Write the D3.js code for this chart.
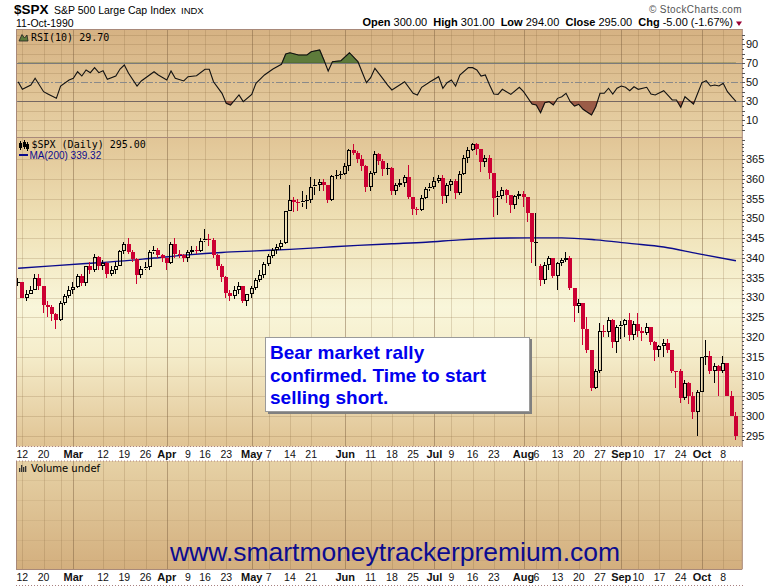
<!DOCTYPE html>
<html><head><meta charset="utf-8">
<script src="https://cdn.jsdelivr.net/npm/d3@7"></script>
<style>body{margin:0;background:#fff;} svg{display:block;font-family:"Liberation Sans",Arial,sans-serif;}</style>
</head><body><svg id="c" width="780" height="586"></svg>
<script>
// ---- DATA ----
const opens = [334,334,330,331,332,335,333,328,327.7,325.7,324.2,328.7,330.3,331.9,332.7,335.5,333.7,337.9,337,340.3,
337.9,338.7,336,336.9,338.1,341.9,343.5,341.6,339.7,335.7,337.2,337.6,341.5,342,340.8,339.9,338.7,343.6,341.1,340.7,
340.1,341.4,342.1,341.9,344.3,344.7,344.6,340.7,338.1,335.1,331.1,330.4,332,332.9,329.1,330.8,332.3,334.5,335.6,338.4,
340.5,342,342.9,343.8,352,354.8,354.3,354,354.5,354.6,358,358.4,359.3,358.4,354.6,360.7,360.9,361.2,363.2,367.4,
366.6,365,363.2,358,361.6,366.3,364.5,362.5,362.9,356.9,358.5,359.1,360.5,355.4,352.3,352.1,355.1,357.6,358,359.5,
360.2,355.7,358.4,359.5,356.5,361.2,365.4,367.3,369,367.5,364.2,365.3,361.6,355.3,355.8,357.1,355.9,353.4,355.6,356.2,
355.5,351.5,344,338,334.5,338.3,339.9,335.5,338.8,339.4,340.1,332.4,327.8,328.5,321.9,316.6,307.1,311.5,321.4,321.3,
324.2,318.7,322.6,323.1,324.4,320.5,323.4,321.6,321,322.5,318.7,316.8,317.8,318.6,316.6,311.5,311.3,304.6,308.3,305.1,
301,306.1,314.9,315.2,311.4,312.7,311.5,313.5,305.1,300];
const highs = [335,334,332,333,336,336,333,329,328,326,329,331,333,334,336,336,338,339,341,340.5,
339.5,339,338,339,342,344,345,342,340,338,339,342,343,342.5,341,340,344,345,342,341,
342,343,343,345,347.3,346,345,341,338.5,335.5,332,333,334,333,331,333,335,337,339,341,
342.5,343.5,344.5,352,358.5,355.5,355,357,356,360.5,360,360,360,358.5,361,362.3,362,364,367.5,368.9,
367,366,363.5,362,367,366.5,365,364,363,359,360,361,363.6,355.5,353,356,358,359,360.5,361,
361,359,360,360,362,366,368,369.2,369.2,367.5,366,366,361.6,357,358,357.5,356,356,357,357,
355.5,351.5,351.5,338.5,339,340.5,340,339,340,341.5,340.5,332.5,329.5,328.5,325,316.6,312,323.5,323,325,
324.5,323,324,324.5,326,324,326,322.5,323.5,322.5,319,318,319.5,319.5,316.8,311.5,312,309,308.5,306,
306.5,315,319.2,316.5,313.5,313,315.2,313.5,306.4,301];
const lows = [333,330,329,331,332,332,326,325,324,322,324,328,330,331,332.5,333,333,336,336.5,337,
337,335,335.5,336,338,341,341,339,333.4,335,337,337,341,340,339,337,338.5,340,340,339,
339,341,341,341.5,344,343,340,337,334,330,329,329.5,331,328.5,327.9,330,332,334,335,338,
340,341,342,343.5,352,351.7,352,353,352.5,354,356,357,357,354,354.5,360,360,361,362,366,
364,362,356.8,357,361,363.5,360.8,361,356,356,358,358,355,350.9,350.9,352,355,357,357.5,359,
353.7,354,357,355,356,361,364,367,366,361.9,363,360,350.3,350.9,355,354,351.5,352.5,355,353,
349,338.7,338,333,333.5,337,335,332,338,339,332,323.9,326,318,316,306.2,306.8,311,320,320,
317.1,316,319.5,320,319,319.2,320,319,320.5,318,314,315,315,316,311,307.2,303.2,304,303,299.2,
295,306,313,310.5,308.3,305.1,311,305,300,294];
const closes = [334,330,331,332,335,333,328,327.7,325.7,324.2,328.7,330.3,331.9,332.7,335.5,333.7,337.9,337,340.3,337.9,
338.7,336,336.9,338.1,341.9,343.5,341.6,339.7,335.7,337.2,337.6,341.5,342,340.8,339.9,338.7,343.6,341.1,340.7,340.1,
341.4,342.1,341.9,344.3,344.7,344.6,340.7,338.1,335.1,331.1,330.4,332,332.9,329.1,330.8,332.3,334.5,335.6,338.4,340.5,
342,342.9,343.8,352,354.8,354.3,354,354.5,354.6,358,358.4,359.3,358.4,354.6,360.7,360.9,361.2,363.2,367.4,366.6,
365,363.2,358,361.6,366.3,364.5,362.5,362.9,356.9,358.5,359.1,360.5,355.4,352.3,352.1,355.1,357.6,358,359.5,360.2,
355.7,358.4,359.5,356.5,361.2,365.4,367.3,369,367.5,364.2,365.3,361.6,355.3,355.8,357.1,355.9,353.4,355.6,356.2,355.5,
351.5,344,344,334.5,338.3,339.9,335.5,338.8,339.4,340.1,332.4,327.8,328.5,321.9,316.6,307.1,311.5,321.4,321.3,324.2,
318.7,322.6,323.1,324.4,320.5,323.4,321.6,321,322.5,318.7,316.8,317.8,318.6,316.6,311.5,311.3,304.6,308.3,305.1,301,
306.1,314.9,315.2,311.4,312.7,311.5,313.5,305.1,300,295];

const maIdx = [0,8,16,24,32,40,48,56,64,72,80,88,96,104,112,120,128,136,144,152,160,169];
const maVal = [337.4,338.0,338.6,339.2,340.0,340.8,341.4,341.8,342.2,342.7,343.2,343.6,344.0,344.6,345.0,345.1,345.1,344.6,343.7,342.8,341.1,339.3];

const rsiIdx = [0,1,3,4,6,7,9,10,12,13,14,15,16,17,18,19,20,21,23,24,25,26,28,29,32,33,35,36,37,39,40,42,44,45,46,48,49,50,52,53,55,56,58,60,62,63,64,66,68,69,71,72,73,74,76,78,80,82,83,84,86,87,88,91,93,94,95,97,99,100,101,102,103,104,106,107,108,109,110,111,112,113,114,116,118,119,121,122,123,124,125,126,127,128,129,130,131,132,133,135,136,137,138,139,140,141,142,143,144,145,146,148,149,150,152,154,155,156,157,159,160,161,162,163,164,165,166,167,168,169];
const rsiVal = [50.3,42.3,46.8,53.9,39.8,37.4,32.8,45.8,52.1,53.9,60.8,56.3,62.6,59.8,65.1,59.8,61.9,52.8,56.3,63.7,67.9,59.2,45.8,51.1,60.8,57.4,52.1,61.6,53.9,51.1,55.6,56.6,63.4,63.4,50.3,38.1,27.6,25.8,36.3,29.3,37,48.6,57.4,63.7,68.6,79.5,80.8,78.4,78.4,81.9,83.7,73.2,61.6,71.4,72.4,80.8,71.4,49.3,54.5,64.4,52.8,46.8,41.6,50.3,38.1,36.3,44.4,50.3,55.6,43.4,49.3,52.1,45.8,57.4,65.1,65.1,62.6,56.3,57.4,46.8,37.4,37,42.3,37,44.4,39.8,26.8,25.8,17.7,28.2,29.3,25.8,32.8,34.5,38.1,29.3,24.7,26.5,21.3,15.3,24,38.1,38.1,43.4,37.4,43.4,45.8,44.4,40.8,45,42.3,44.4,37.4,36.3,40.8,31.1,31.1,23.4,34.5,26.8,38.1,49.3,51.4,45.8,46.8,45.8,48.6,39.8,34.5,29.7];

const tickIdx = [1,6,13,20,25,30,35,40,44,49,55,59,64,69,77,83,88,93,98,102,107,112,119,122,127,132,137,142,146,151,156,161,166];
const tickLabels = ["12","20","Mar","12","19","26","Apr","9","16","23","May","7","14","21","Jun","11","18","25","Jul","9","16","23","Aug","6","13","20","27","Sep","10","17","24","Oct","8"];
const extraGridIdx = [10];
const priceTicks = [295,300,305,310,315,320,325,330,335,340,345,350,355,360,365];
const rsiTicks = [10,30,50,70,90];

// ---- LAYOUT ----
const L = 16, R = 742.3;
const RSI_T = 29, RSI_B = 137, PR_T = 137, PR_B = 446.5, VO_T = 461, VO_B = 569;
const RED = "#cc0033", BLK = "#000";
const svg = d3.select("#c");
const defs = svg.append("defs");
function grad(id, stops){
  const g = defs.append("linearGradient").attr("id", id).attr("x1",0).attr("y1",0).attr("x2",0).attr("y2",1);
  stops.forEach(([o,c]) => g.append("stop").attr("offset", o).attr("stop-color", c));
}
grad("gRsi", [[0,"#d6b283"],[1,"#e7d1a5"]]);
grad("gPrice", [[0,"#e1c596"],[0.28,"#efe1b6"],[0.55,"#f9f6da"],[0.7,"#f5edcb"],[1,"#e0c393"]]);
grad("gVol", [[0,"#e6d1a5"],[1,"#d3af7e"]]);
defs.append("clipPath").attr("id","clipP").append("rect").attr("x",L).attr("y",PR_T).attr("width",R-L).attr("height",PR_B-PR_T);
defs.append("clipPath").attr("id","clipR").append("rect").attr("x",L).attr("y",RSI_T).attr("width",R-L).attr("height",RSI_B-RSI_T);

const x = d3.scaleLinear().domain([-0.5, 170.5]).range([L, R]);
const yP = d3.scaleLinear().domain([295, 365]).range([435.7, 159.3]);
const yR = d3.scaleLinear().domain([30, 70]).range([101, 63]);
const px = v => Math.round(v) + 0.5;

// panels
svg.append("rect").attr("x",L).attr("y",RSI_T).attr("width",R-L).attr("height",RSI_B-RSI_T).attr("fill","url(#gRsi)");
svg.append("rect").attr("x",L).attr("y",PR_T).attr("width",R-L).attr("height",PR_B-PR_T).attr("fill","url(#gPrice)");
svg.append("rect").attr("x",L).attr("y",VO_T).attr("width",R-L).attr("height",VO_B-VO_T).attr("fill","url(#gVol)");

// vertical grid
const isMonth = d => /^[A-Z]/.test(d);
const vGrid = tickIdx.map((t,i)=>({i:t, m:isMonth(tickLabels[i])})).concat(extraGridIdx.map(t=>({i:t,m:false})));
[[RSI_T,RSI_B],[PR_T,PR_B],[VO_T,VO_B]].forEach(([t,b]) => {
  svg.append("g").selectAll("line").data(vGrid).join("line")
    .attr("x1", d=>px(x(d.i))).attr("x2", d=>px(x(d.i))).attr("y1", t).attr("y2", b)
    .attr("stroke", d => d.m ? "rgba(120,90,60,0.45)" : "rgba(130,100,60,0.22)").attr("stroke-width",1);
});
// horizontal grid - price
svg.append("g").selectAll("line").data(priceTicks).join("line")
  .attr("x1",L).attr("x2",R).attr("y1",d=>px(yP(d))).attr("y2",d=>px(yP(d)))
  .attr("stroke","rgba(130,100,60,0.22)");
// horizontal grid - rsi
svg.append("g").selectAll("line").data([0,10,20,40,60,80,90,100]).join("line")
  .attr("x1",L).attr("x2",R).attr("y1",d=>px(yR(d))).attr("y2",d=>px(yR(d)))
  .attr("stroke","rgba(130,100,60,0.22)").attr("clip-path","url(#clipR)");
svg.append("g").selectAll("line").data([70,30]).join("line")
  .attr("x1",L).attr("x2",R).attr("y1",d=>px(yR(d))).attr("y2",d=>px(yR(d)))
  .attr("stroke","#7b7b7b");
svg.append("line").attr("x1",L).attr("x2",R).attr("y1",px(yR(50))).attr("y2",px(yR(50)))
  .attr("stroke","#8a8a8a").attr("stroke-dasharray","7,2,2,2");
// volume horizontal faint lines
svg.append("g").selectAll("line").data([480,500,520,540,560]).join("line")
  .attr("x1",L).attr("x2",R).attr("y1",d=>d+0.5).attr("y2",d=>d+0.5).attr("stroke","rgba(130,100,60,0.10)");

// RSI
const rsiPts = rsiIdx.map((d,i)=>[d, rsiVal[i]]);
const gR = svg.append("g").attr("clip-path","url(#clipR)");
defs.append("clipPath").attr("id","above70").append("rect").attr("x",L).attr("y",RSI_T).attr("width",R-L).attr("height",yR(70)-RSI_T);
defs.append("clipPath").attr("id","below30").append("rect").attr("x",L).attr("y",yR(30)).attr("width",R-L).attr("height",RSI_B-yR(30));
gR.append("path").datum(rsiPts).attr("clip-path","url(#above70)")
  .attr("d", d3.area().x(d=>x(d[0])).y0(yR(70)).y1(d=>yR(d[1])))
  .attr("fill","#5e7b3b").attr("stroke","#3f5a24").attr("stroke-width",0.6);
gR.append("path").datum(rsiPts).attr("clip-path","url(#below30)")
  .attr("d", d3.area().x(d=>x(d[0])).y0(yR(30)).y1(d=>yR(d[1])))
  .attr("fill","#9b5c47").attr("stroke","#6b3a2a").attr("stroke-width",0.6);
gR.append("path").datum(rsiPts)
  .attr("d", d3.line().x(d=>x(d[0])).y(d=>yR(d[1])))
  .attr("fill","none").attr("stroke","#111").attr("stroke-width",1.1);

// Price: MA then candles
const gP = svg.append("g").attr("clip-path","url(#clipP)");
gP.append("path").datum(maIdx.map((d,i)=>[d, maVal[i]]))
  .attr("d", d3.line().x(d=>x(d[0])).y(d=>yP(d[1])).curve(d3.curveMonotoneX))
  .attr("fill","none").attr("stroke","#0b0b8c").attr("stroke-width",1.4);

const bars = d3.range(closes.length).map(i => ({
  i, o: opens[i], h: highs[i], l: lows[i], c: closes[i],
  col: (i > 0 && closes[i] < closes[i-1]) ? RED : BLK
}));
const gC = gP.append("g").attr("shape-rendering","crispEdges");
bars.forEach(b => {
  const left = Math.round(x(b.i) - 2);
  const wx = left + 1.5;
  const top = yP(Math.max(b.o, b.c)), bot = yP(Math.min(b.o, b.c));
  gC.append("line").attr("x1",wx).attr("x2",wx).attr("y1",yP(b.h)).attr("y2",top).attr("stroke",b.col);
  gC.append("line").attr("x1",wx).attr("x2",wx).attr("y1",bot).attr("y2",yP(b.l)).attr("stroke",b.col);
  if (b.c < b.o) {
    gC.append("rect").attr("x",left).attr("y",top).attr("width",4).attr("height",Math.max(1,bot-top)).attr("fill",b.col);
  } else if (b.c > b.o && bot - top >= 2) {
    gC.append("rect").attr("x",left+0.5).attr("y",top+0.5).attr("width",3).attr("height",Math.max(1,bot-top-1))
      .attr("fill","none").attr("stroke",b.col);
  } else {
    gC.append("rect").attr("x",left).attr("y",Math.round(top)-0.5).attr("width",4).attr("height",1.5).attr("fill",b.col);
  }
});

// borders
const bc = "#a8897a";
svg.append("path").attr("d",`M${L+0.5},${RSI_T}V${PR_B}M${R},${RSI_T}V${PR_B}M${L},${RSI_T+0.5}H${R}M${L},${RSI_B+0.5}H${R}`)
  .attr("stroke",bc).attr("fill","none");
svg.append("path").attr("d",`M${L+0.5},${VO_T}V${VO_B}M${R},${VO_T}V${VO_B}M${L},${VO_B+0.5}H${R}`)
  .attr("stroke",bc).attr("fill","none");
[PR_B, VO_T, 585.5].forEach(yy => svg.append("line").attr("x1",L).attr("x2",R+2).attr("y1",yy).attr("y2",yy)
  .attr("stroke","#a88080").attr("stroke-dasharray","1,2"));

// right axis ticks & labels
const minor = d3.range(294, 371);
svg.append("g").selectAll("line").data(minor).join("line")
  .attr("x1",R).attr("x2",d=> d%5===0 ? R+3 : R+2).attr("y1",d=>px(yP(d))).attr("y2",d=>px(yP(d)))
  .attr("stroke","#555").attr("shape-rendering","crispEdges");
svg.append("g").selectAll("line").data(d3.range(0,101,5)).join("line")
  .attr("x1",R).attr("x2",d=> d%10===0 ? R+3 : R+2).attr("y1",d=>px(yR(d))).attr("y2",d=>px(yR(d)))
  .attr("stroke","#555").attr("shape-rendering","crispEdges")
  .filter(d=>yR(d)<RSI_T+2||yR(d)>RSI_B-2).remove();
svg.append("g").selectAll("text").data(priceTicks).join("text")
  .attr("x",746).attr("y",d=>yP(d)).attr("dy","0.36em").attr("font-size",11).attr("fill","#111").text(d=>d);
svg.append("g").selectAll("text").data(rsiTicks).join("text")
  .attr("x",746).attr("y",d=>yR(d)).attr("dy","0.36em").attr("font-size",11).attr("fill","#111").text(d=>d);

// x-axis labels (two strips)
[457.5, 581].forEach(yy => {
  svg.append("g").selectAll("text").data(tickIdx).join("text")
    .attr("x", d=>x(d)).attr("y", yy).attr("text-anchor","middle")
    .attr("font-size", (d,i)=> isMonth(tickLabels[i]) ? 11 : 10.5)
    .attr("font-weight", (d,i)=> isMonth(tickLabels[i]) ? "bold" : "normal")
    .attr("fill","#111").text((d,i)=>tickLabels[i]);
});

// header
svg.append("text").attr("x",14).attr("y",14).attr("font-size",13.5).attr("font-weight","bold").text("$SPX");
svg.append("text").attr("x",54).attr("y",14).attr("font-size",10.5).text("S&P 500 Large Cap Index");
svg.append("text").attr("x",181).attr("y",14).attr("font-size",9.5).text("INDX");
svg.append("text").attr("x",16).attr("y",27).attr("font-size",10.5).text("11-Oct-1990");
svg.append("text").attr("x",742).attr("y",13).attr("text-anchor","end").attr("font-size",10).attr("fill","#555")
  .attr("letter-spacing",0.4).text("\u00a9 StockCharts.com");
const hdr = svg.append("text").attr("x",733).attr("y",26).attr("text-anchor","end").attr("font-size",11).attr("xml:space","preserve");
[["Open ",1],["300.00  ",0],["High ",1],["301.00  ",0],["Low ",1],["294.00  ",0],["Close ",1],["295.00  ",0],["Chg ",1],["-5.00 (-1.67%)",0]]
  .forEach(([t,b]) => hdr.append("tspan").attr("font-weight", b ? "bold" : "normal").text(t));
svg.append("path").attr("d","M736,21.5L742,21.5L739,26Z").attr("fill","#990033");

// legends
svg.append("path").attr("d","M19,41L22,34.5L24.5,38L27,35L28,41Z").attr("fill","#5e7b3b").attr("stroke","#222").attr("stroke-width",0.8);
svg.append("text").attr("x",31).attr("y",40.5).attr("font-family","DejaVu Sans Mono, monospace").attr("font-size",10).text("RSI(10) 29.70");
const ic = svg.append("g").attr("shape-rendering","crispEdges");
[[20,142,149],[23.5,141,148],[27,143,150]].forEach(([cx,t,b])=>{
  ic.append("line").attr("x1",cx+0.5).attr("x2",cx+0.5).attr("y1",t-1).attr("y2",b+1).attr("stroke","#000");
  ic.append("rect").attr("x",cx-1).attr("y",t+1).attr("width",3).attr("height",b-t-2).attr("fill","#000");
});
svg.append("text").attr("x",31.5).attr("y",148.3).attr("font-family","DejaVu Sans Mono, monospace").attr("font-size",10).text("$SPX (Daily) 295.00");
svg.append("line").attr("x1",19).attr("x2",28).attr("y1",155).attr("y2",155).attr("stroke","#0b0b8c").attr("stroke-width",2);
svg.append("text").attr("x",29.5).attr("y",159).attr("font-size",10).attr("fill","#0b0b8c").text("MA(200) 339.32");
[[19,468],[21,465],[23,467],[25,466]].forEach(([bx,by])=>svg.append("rect").attr("x",bx).attr("y",by).attr("width",1.3).attr("height",472-by).attr("fill","#333"));
svg.append("text").attr("x",31).attr("y",472).attr("font-family","DejaVu Sans, sans-serif").attr("font-size",10).text("Volume undef");

// annotation
svg.append("rect").attr("x",268).attr("y",339).attr("width",264).attr("height",75).attr("fill","#808080");
svg.append("rect").attr("x",265.5).attr("y",337.5).attr("width",264).attr("height",74).attr("fill","#fff").attr("stroke","#9a9a9a");
["Bear market rally","confirmed. Time to start","selling short."].forEach((t,i)=>
  svg.append("text").attr("x",270).attr("y",359+i*22.5).attr("font-size",19).attr("font-weight","bold").attr("fill","#0000ee").text(t));

// watermark
svg.append("text").attr("x",170).attr("y",561).attr("font-size",25).attr("fill","#0c0c90")
  .attr("textLength",450).attr("lengthAdjust","spacingAndGlyphs").text("www.smartmoneytrackerpremium.com");
</script>
</body></html>
